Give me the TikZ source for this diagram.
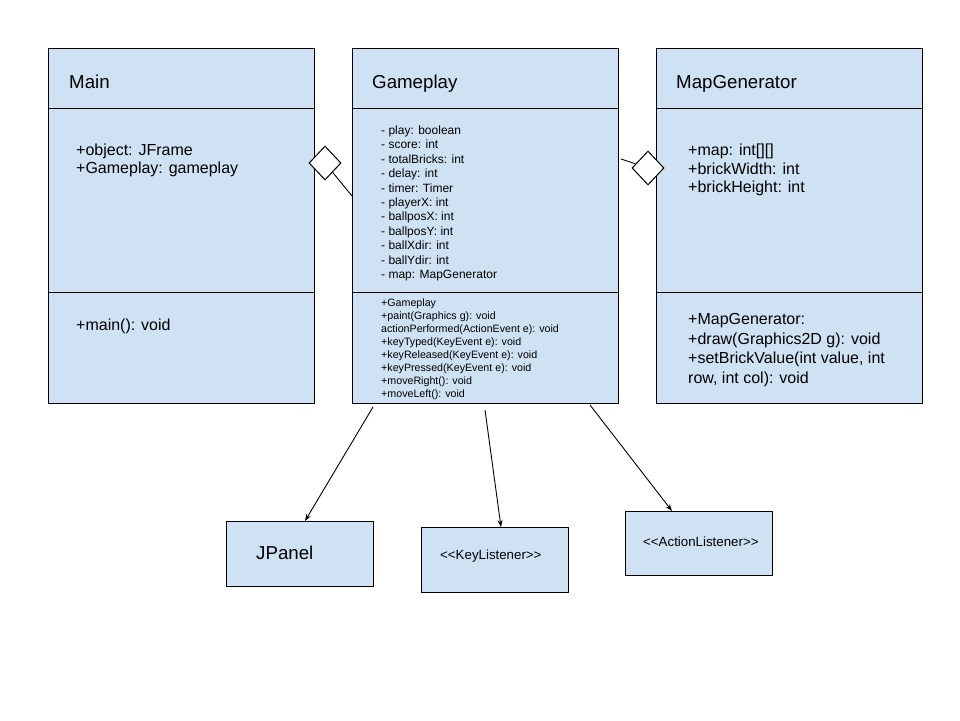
\documentclass[tikz,border=0pt]{standalone}
\usepackage{fontspec}
\setmainfont{Liberation Sans}
\usetikzlibrary{shapes.geometric,arrows.meta,calc}
\definecolor{boxblue}{HTML}{CFE2F3}
\tikzset{
  classbox/.style={draw=black, fill=boxblue, line width=1pt, inner sep=0pt, anchor=north west},
  agg/.style={draw=black, fill=white, shape=diamond, inner sep=0pt, line width=1pt, minimum width=32pt, minimum height=34pt},
  conn/.style={draw=black, line width=0.9pt},
  arr/.style={conn, -{Stealth[length=7pt,width=5pt]}},
  divider/.style={line width=1pt},
  title/.style={anchor=base west, inner sep=0pt, font=\fontsize{18.7}{22}\selectfont},
  txt/.style={anchor=base west, inner sep=0pt},
  block/.style={anchor=north west, inner sep=0pt, align=left},
}
\begin{document}
\begin{tikzpicture}[x=1pt,y=-1pt]
\useasboundingbox (0,0) rectangle (960,720);
\fill[white] (0,0) rectangle (960,720);
% class boxes
\node[classbox, minimum width=266, minimum height=355] (main) at (48,48) {};
\node[classbox, minimum width=266, minimum height=355] (gp) at (352,48) {};
\node[classbox, minimum width=266, minimum height=355] (mg) at (656,48) {};
\draw[divider] (48,108) -- (314,108) (48,292) -- (314,292);
\draw[divider] (352,108) -- (618,108) (352,292) -- (618,292);
\draw[divider] (656,108) -- (922,108) (656,292) -- (922,292);
% titles
\node[title] (mainT) at (69,88) {Main};
\node[title] (gpT) at (372,88) {Gameplay};
\node[title] (mgT) at (676,88) {MapGenerator};
% Main
\node[txt, font=\fontsize{16}{18}\selectfont] (mainA1) at (76,155.8) {+object: JFrame};
\node[txt, font=\fontsize{16}{18}\selectfont] (mainA2) at (76,173.8) {+Gameplay: gameplay};
\node[txt, font=\fontsize{16}{18}\selectfont] (mainM) at (76,330.8) {+main(): void};
% Gameplay
\node[block, font=\fontsize{12}{14.4}\selectfont] (gpA) at (381,125.5)
 {- play: boolean\\- score: int\\- totalBricks: int\\- delay: int\\- timer: Timer\\- playerX: int\\- ballposX: int\\- ballposY: int\\- ballXdir: int\\- ballYdir: int\\- map: MapGenerator};
\node[block, font=\fontsize{10.67}{13}\selectfont] (gpM) at (381,298.1)
 {+Gameplay\\+paint(Graphics g): void\\actionPerformed(ActionEvent e): void\\+keyTyped(KeyEvent e): void\\+keyReleased(KeyEvent e): void\\+keyPressed(KeyEvent e): void\\+moveRight(): void\\+moveLeft(): void};
% MapGenerator
\node[block, font=\fontsize{16}{18.5}\selectfont] (mgA) at (688,144.1)
 {+map: int[][]\\+brickWidth: int\\+brickHeight: int};
\node[block, font=\fontsize{16}{19.67}\selectfont] (mgM) at (688,313.1)
 {+MapGenerator:\\+draw(Graphics2D g): void\\+setBrickValue(int value, int\\row, int col): void};
% interface boxes
\node[classbox, minimum width=147, minimum height=65] (jp) at (226,521) {};
\node[classbox, minimum width=147, minimum height=65] (kl) at (421,527) {};
\node[classbox, minimum width=147, minimum height=64] (al) at (625,511) {};
\node[title] (jpT) at (256,559) {JPanel};
\node[txt, font=\fontsize{13.3}{16}\selectfont] (klT) at (440,559.8) {<{}<KeyListener>{}>};
\node[txt, font=\fontsize{13.3}{16}\selectfont] (alT) at (643,546.8) {<{}<ActionListener>{}>};
% aggregations
\node[agg] (d1) at (325,163) {};
\node[agg] (d2) at (648,168) {};
\coordinate (c1) at (352,196);
\coordinate (c2) at (621,159);
\draw[conn] (d1) -- (c1);
\draw[conn] (c2) -- (d2);
% arrows
\coordinate (s1) at (373,407);
\coordinate (s2) at (485,410);
\coordinate (s3) at (590,405);
\draw[arr] (s1) -- ($(jp.north west)+(79,0)$);
\draw[arr] (s2) -- ($(kl.north west)+(80,0)$);
\draw[arr] (s3) -- ($(al.north west)+(47,0)$);
\end{tikzpicture}
\end{document}
